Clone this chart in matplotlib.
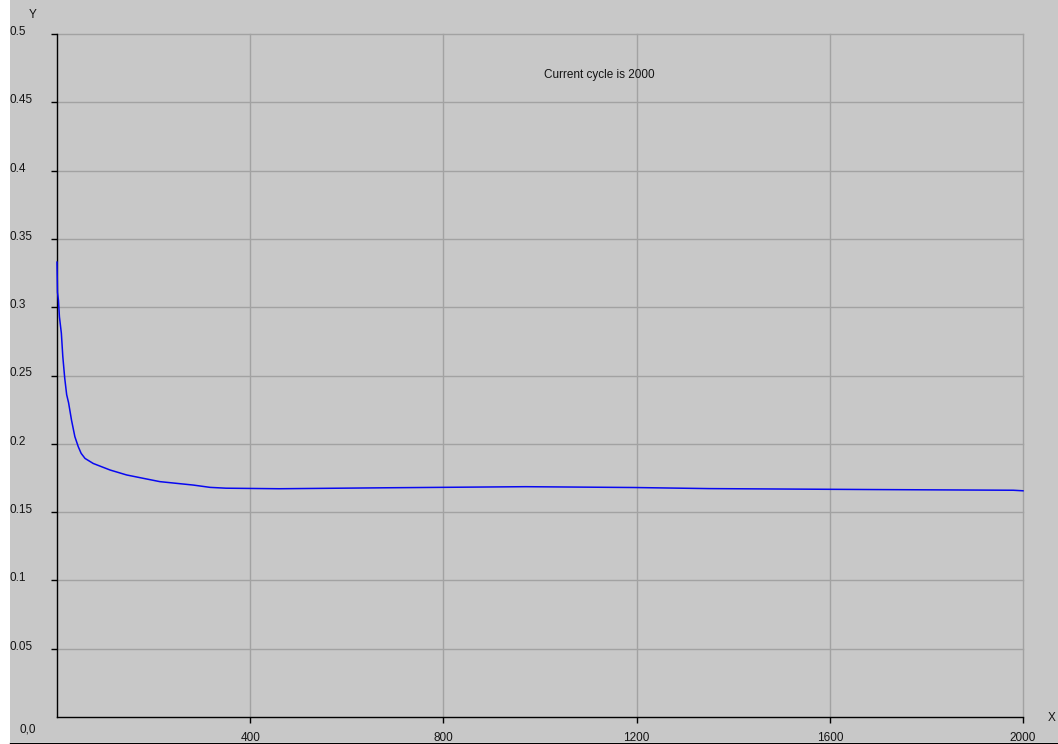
import matplotlib
matplotlib.use('Agg')
import matplotlib.pyplot as plt
import matplotlib.transforms as mtransforms
from matplotlib.patches import Rectangle
from matplotlib.lines import Line2D

# training error per cycle
cycles = [0, 1, 3, 5, 9, 12, 16, 20, 24, 30, 37, 44, 50, 58, 75, 110, 144, 179,
          213, 282, 317, 350, 460, 680, 970, 1195, 1350, 1690, 1980, 2000]
error = [0.333, 0.311, 0.305, 0.293, 0.281, 0.264, 0.248, 0.236, 0.230, 0.2174,
         0.2052, 0.1979, 0.1930, 0.1893, 0.1856, 0.1808, 0.1772, 0.1747, 0.1723,
         0.1698, 0.1681, 0.1675, 0.1671, 0.1678, 0.1686, 0.1680, 0.1672, 0.1665,
         0.1660, 0.1656]

x_ticks = [400, 800, 1200, 1600, 2000]
x_tick_labels = ['400', '800', '1200', '1600', '2000']
y_ticks = [0.05, 0.1, 0.15, 0.2, 0.25, 0.3, 0.35, 0.4, 0.45, 0.5]
y_tick_labels = ['0.05', '0.1', '0.15', '0.2', '0.25', '0.3', '0.35', '0.4', '0.45', '0.5']
status_text = 'Current cycle is 2000'

plt.rcParams['font.family'] = ['Liberation Sans', 'DejaVu Sans']
plt.rcParams['font.size'] = 8.5

W, H = 1058, 744
bg = '#c8c8c8'
txt = '#141414'

fig = plt.figure(figsize=(W / 100, H / 100), dpi=100)
fig.patch.set_facecolor('white')
fig.add_artist(Rectangle((10 / W, 2 / H), 1 - 10 / W, 1 - 2 / H, transform=fig.transFigure,
                         facecolor=bg, edgecolor='none', zorder=0))
fig.add_artist(Line2D([10 / W, 1], [1.5 / H, 1.5 / H], transform=fig.transFigure,
                      color='black', lw=1.0))

ax = fig.add_axes([57 / W, 27 / H, 966 / W, 683 / H])
ax.set_facecolor('none')
ax.set_xlim(0, 2000)
ax.set_ylim(0, 0.5)

ax.plot(cycles, error, color='#0808f0', lw=1.1, zorder=5, clip_on=False)

ax.set_xticks(x_ticks)
ax.set_xticklabels(x_tick_labels, color=txt)
ax.set_yticks(y_ticks)
ax.set_yticklabels([])
ax.tick_params(axis='both', direction='out', length=4, width=1.0, color='black')
ax.tick_params(axis='x', pad=6.5)
ax.grid(True, color='#a2a2a2', lw=1.0, zorder=1)
for gl in ax.get_xgridlines() + ax.get_ygridlines():
    gl.set_clip_on(False)

for side in ['top', 'right']:
    ax.spines[side].set_visible(False)
for side in ['left', 'bottom']:
    ax.spines[side].set_color('black')
    ax.spines[side].set_linewidth(1.0)
    ax.spines[side].set_zorder(4)

# y tick labels sit flush at the left edge of the panel
ylab_tr = mtransforms.offset_copy(
    mtransforms.blended_transform_factory(fig.transFigure, ax.transData),
    fig=fig, y=2, units='dots')
for v, lab in zip(y_ticks, y_tick_labels):
    fig.text(10 / W, v, lab, transform=ylab_tr, ha='left', va='center', color=txt)

fig.text(20 / W, 1 - 729 / H, '0,0', ha='left', va='center', color=txt)
fig.text(33 / W, 1 - 15 / H, 'Y', ha='center', va='center', color=txt)
fig.text(1052 / W, 1 - 718 / H, 'X', ha='center', va='center', color=txt)

ax.text(0.5616, 0.94, status_text, transform=ax.transAxes, ha='center', va='center', color=txt)

fig.savefig('out.png', dpi=100, facecolor=fig.get_facecolor())
